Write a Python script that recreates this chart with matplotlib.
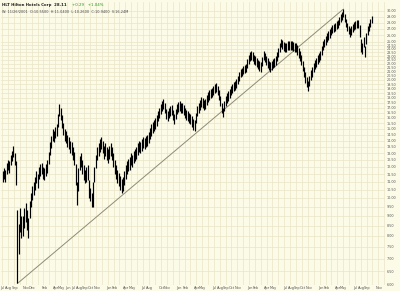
"""HLT weekly price bars with long-term trend line (log scale)."""
import matplotlib
matplotlib.use("Agg")
import matplotlib.pyplot as plt
from matplotlib.ticker import NullLocator
import numpy as np
import pandas as pd

# weekly bars, first week starts Mon 2001-07-02
first_week = "2001-07-02"
week_low = [
    11.0, 11.2, 11.0, 11.5, 11.8, 11.6, 12.1, 12.4, 12.7, 12.1,
    10.8, 6.05, 7.2, 8.2, 7.9, 8.0, 8.4, 8.7, 8.3, 7.9,
    8.9, 9.5, 9.9, 10.2, 10.5, 10.9, 10.6, 11.2, 11.4, 11.5,
    11.2, 11.1, 11.4, 11.6, 12.2, 12.9, 13.4, 14.0, 13.9, 14.2,
    14.4, 15.2, 16.2, 15.8, 15.1, 14.5, 14.0, 13.8, 13.5, 13.3,
    13.0, 12.9, 12.5, 12.1, 10.8, 9.6, 10.4, 11.8, 12.0, 11.5,
    11.1, 10.9, 11.0, 11.1, 10.0, 9.8, 9.5, 9.5, 11.0, 11.9,
    12.5, 12.8, 13.1, 13.3, 13.0, 12.6, 12.8, 12.5, 12.3, 12.6,
    12.8, 12.5, 12.0, 11.5, 11.2, 10.9, 10.7, 10.5, 10.3, 10.4,
    10.8, 11.2, 11.5, 11.7, 11.8, 12.1, 12.0, 12.3, 12.4, 12.6,
    12.9, 13.1, 13.0, 13.2, 13.4, 13.3, 13.5, 13.6, 13.8, 14.1,
    14.4, 14.6, 14.8, 15.0, 15.3, 15.7, 16.0, 16.4, 16.7, 16.9,
    16.5, 15.9, 15.7, 16.0, 16.2, 16.3, 15.8, 15.4, 15.9, 16.4,
    16.6, 16.7, 16.5, 16.5, 16.3, 16.0, 15.8, 15.7, 15.5, 15.4,
    15.2, 14.9, 14.8, 15.5, 16.2, 16.5, 16.8, 17.1, 17.0, 16.8,
    16.9, 17.3, 17.6, 17.8, 18.0, 18.1, 18.3, 18.5, 18.6, 18.3,
    17.8, 17.2, 16.5, 16.1, 16.7, 17.2, 17.5, 17.7, 18.0, 18.3,
    18.5, 18.7, 18.9, 19.1, 19.5, 19.9, 20.3, 20.5, 20.7, 20.8,
    20.9, 21.4, 22.0, 22.3, 22.5, 22.3, 22.0, 21.8, 21.6, 21.3,
    21.1, 21.0, 21.7, 22.5, 22.2, 21.8, 21.5, 21.2, 21.0, 21.2,
    21.4, 21.6, 21.8, 22.3, 22.9, 23.6, 24.2, 24.0, 23.7, 23.5,
    23.6, 23.8, 23.9, 23.9, 23.8, 23.7, 23.6, 23.5, 23.2, 22.8,
    22.4, 21.8, 21.1, 20.3, 19.6, 19.2, 18.7, 19.3, 20.0, 20.4,
    20.9, 21.3, 21.6, 21.9, 22.2, 22.5, 23.1, 23.8, 24.2, 24.6,
    25.0, 25.3, 25.6, 26.0, 26.3, 26.5, 26.7, 27.0, 27.2, 27.6,
    28.1, 28.5, 28.9, 28.1, 27.3, 26.7, 26.2, 25.8, 26.1, 26.5,
    26.8, 27.0, 27.1, 27.2, 25.8, 23.6, 23.3, 24.3, 22.9, 24.7,
    26.1, 26.7, 27.3, 27.9,
]
week_high = [
    11.7, 11.9, 11.8, 12.3, 12.5, 12.4, 12.9, 13.2, 13.6, 13.0,
    12.4, 9.3, 8.6, 9.4, 9.0, 9.0, 9.4, 9.7, 9.3, 8.9,
    9.8, 10.3, 10.7, 11.0, 11.3, 11.7, 11.5, 12.0, 12.2, 12.3,
    12.0, 11.9, 12.2, 12.5, 13.1, 13.9, 14.4, 15.0, 14.8, 15.2,
    15.4, 16.4, 17.4, 17.0, 16.3, 15.5, 15.0, 14.8, 14.5, 14.3,
    14.0, 13.9, 13.5, 13.1, 12.2, 11.0, 11.9, 12.8, 13.0, 12.5,
    12.1, 11.8, 12.0, 12.1, 11.1, 10.6, 10.3, 11.0, 12.0, 12.9,
    13.5, 13.8, 14.1, 14.3, 14.0, 13.6, 13.8, 13.5, 13.3, 13.6,
    13.8, 13.5, 13.0, 12.5, 12.1, 11.8, 11.6, 11.4, 11.2, 11.3,
    11.7, 12.1, 12.4, 12.6, 12.7, 13.0, 12.9, 13.2, 13.3, 13.5,
    13.8, 14.0, 13.9, 14.1, 14.3, 14.2, 14.4, 14.5, 14.7, 15.1,
    15.4, 15.6, 15.8, 16.0, 16.3, 16.7, 17.0, 17.4, 17.7, 17.9,
    17.5, 16.9, 16.7, 17.0, 17.2, 17.3, 16.8, 16.4, 16.9, 17.4,
    17.6, 17.7, 17.5, 17.5, 17.3, 17.0, 16.8, 16.7, 16.5, 16.4,
    16.2, 15.9, 15.8, 16.5, 17.2, 17.5, 17.8, 18.1, 18.0, 17.8,
    17.9, 18.3, 18.6, 18.8, 19.0, 19.1, 19.3, 19.5, 19.6, 19.3,
    18.8, 18.2, 17.5, 17.0, 17.7, 18.2, 18.5, 18.7, 19.0, 19.3,
    19.5, 19.7, 19.9, 20.1, 20.5, 20.9, 21.3, 21.5, 21.7, 21.8,
    21.9, 22.6, 23.2, 23.5, 23.7, 23.5, 23.2, 23.0, 22.8, 22.5,
    22.3, 22.2, 22.9, 23.7, 23.4, 23.0, 22.7, 22.4, 22.2, 22.4,
    22.6, 22.8, 23.0, 23.5, 24.1, 24.8, 25.5, 25.3, 25.0, 24.8,
    24.9, 25.1, 25.2, 25.2, 25.1, 25.0, 24.9, 24.8, 24.5, 24.1,
    23.7, 23.1, 22.4, 21.6, 20.9, 20.4, 19.9, 20.5, 21.2, 21.6,
    22.1, 22.5, 22.8, 23.1, 23.4, 23.7, 24.4, 25.1, 25.5, 25.9,
    26.3, 26.6, 26.9, 27.3, 27.6, 27.8, 28.0, 28.3, 28.5, 28.9,
    29.4, 29.8, 30.3, 29.4, 28.6, 28.0, 27.5, 27.1, 27.4, 27.8,
    28.1, 28.3, 28.4, 28.5, 27.6, 25.4, 24.8, 25.7, 24.4, 26.3,
    27.5, 28.0, 28.6, 29.1,
]

# month labels the chart prints (crowded ones are skipped)
label_months = [
    "2001-07", "2001-08", "2001-09", "2001-11", "2001-12",
    "2002-02", "2002-04", "2002-05", "2002-06", "2002-07", "2002-08",
    "2002-09", "2002-10", "2002-11",
    "2003-01", "2003-02", "2003-04", "2003-05", "2003-07", "2003-08",
    "2003-10", "2003-11",
    "2004-01", "2004-02", "2004-04", "2004-05", "2004-07", "2004-08",
    "2004-09", "2004-10", "2004-11",
    "2005-01", "2005-02", "2005-04", "2005-05", "2005-07", "2005-08",
    "2005-09", "2005-10", "2005-11",
    "2006-01", "2006-02", "2006-04", "2006-05", "2006-07", "2006-08",
    "2006-09", "2006-11",
]
price_ticks = [
    6.0, 6.5, 7.0, 7.5, 8.0, 8.5, 9.0, 9.5, 10.0, 10.5, 11.0, 11.5,
    12.0, 12.5, 13.0, 13.5, 14.0, 14.5, 15.0, 15.5, 16.0, 16.5, 17.0,
    17.5, 18.0, 18.5, 19.0, 19.5, 20.0, 20.5, 21.0, 21.5, 22.0, 22.5,
    23.0, 23.5, 24.0, 24.5, 25.0, 26.0, 27.0, 28.0, 29.0, 30.0,
]

BG = "#fcfbe8"
GRID = "#e8e5c8"

dates = pd.date_range(first_week, periods=len(week_low), freq="7D") + pd.Timedelta(days=2)
lo = np.array(week_low)
hi = np.array(week_high)

fig = plt.figure(figsize=(4.0, 2.91), dpi=100, facecolor=BG)
ax = fig.add_axes([0.0025, 0.021, 0.96, 0.972], facecolor=BG)
ax.set_yscale("log")
ax.set_ylim(6.0, 31.6)
ax.set_xlim(pd.Timestamp("2001-06-26"), pd.Timestamp("2006-12-05"))

# grid: every month, every price tick
months = pd.date_range("2001-07-01", "2006-12-01", freq="MS")
for m in months:
    ax.axvline(m, color=GRID, lw=0.5, zorder=0)
for p in price_ticks:
    ax.axhline(p, color=GRID, lw=0.5, zorder=0)

ax.vlines(dates, lo, hi, color="black", lw=0.85, zorder=3)

# trend line from the 2001 low to the 2006 high
i0, i1 = int(np.argmin(lo)), int(np.argmax(hi))
ax.plot([dates[i0], dates[i1]], [lo[i0], hi[i1]], color="#8e8c78", lw=0.7, zorder=2)

ax.yaxis.tick_right()
ax.yaxis.set_minor_locator(NullLocator())
ax.set_yticks(price_ticks)
ax.set_yticklabels([f"{p:.2f}" for p in price_ticks], fontsize=2.4, color="#555555")
ax.tick_params(axis="y", length=0, pad=1.0)

lab_pos = [pd.Timestamp(m + "-01") + pd.Timedelta(days=4) for m in label_months]
ax.set_xticks(lab_pos)
ax.set_xticklabels([pd.Timestamp(m + "-01").strftime("%b") for m in label_months],
                   fontsize=2.5, color="#555555")
ax.tick_params(axis="x", length=0, pad=0.8)

for s in ax.spines.values():
    s.set_visible(False)

# header: name/price in bold, change in green right after it
head = fig.text(0.006, 0.988, "HLT Hilton Hotels Corp  28.11", fontsize=2.8,
                fontweight="bold", color="#222222", va="top")
fig.canvas.draw()
bb = head.get_window_extent().transformed(fig.transFigure.inverted())
fig.text(bb.x1 + 0.012, 0.988, "+0.29   +1.04%", fontsize=2.8, color="#1c9a1c", va="top")
fig.text(0.006, 0.965, "W: 11/26/2001  O:10.5500  H:11.0400  L:10.2600  C:10.9400  V:16.24M",
         fontsize=2.5, color="#444444", va="top")

fig.savefig("out.png", dpi=100, facecolor=BG)
